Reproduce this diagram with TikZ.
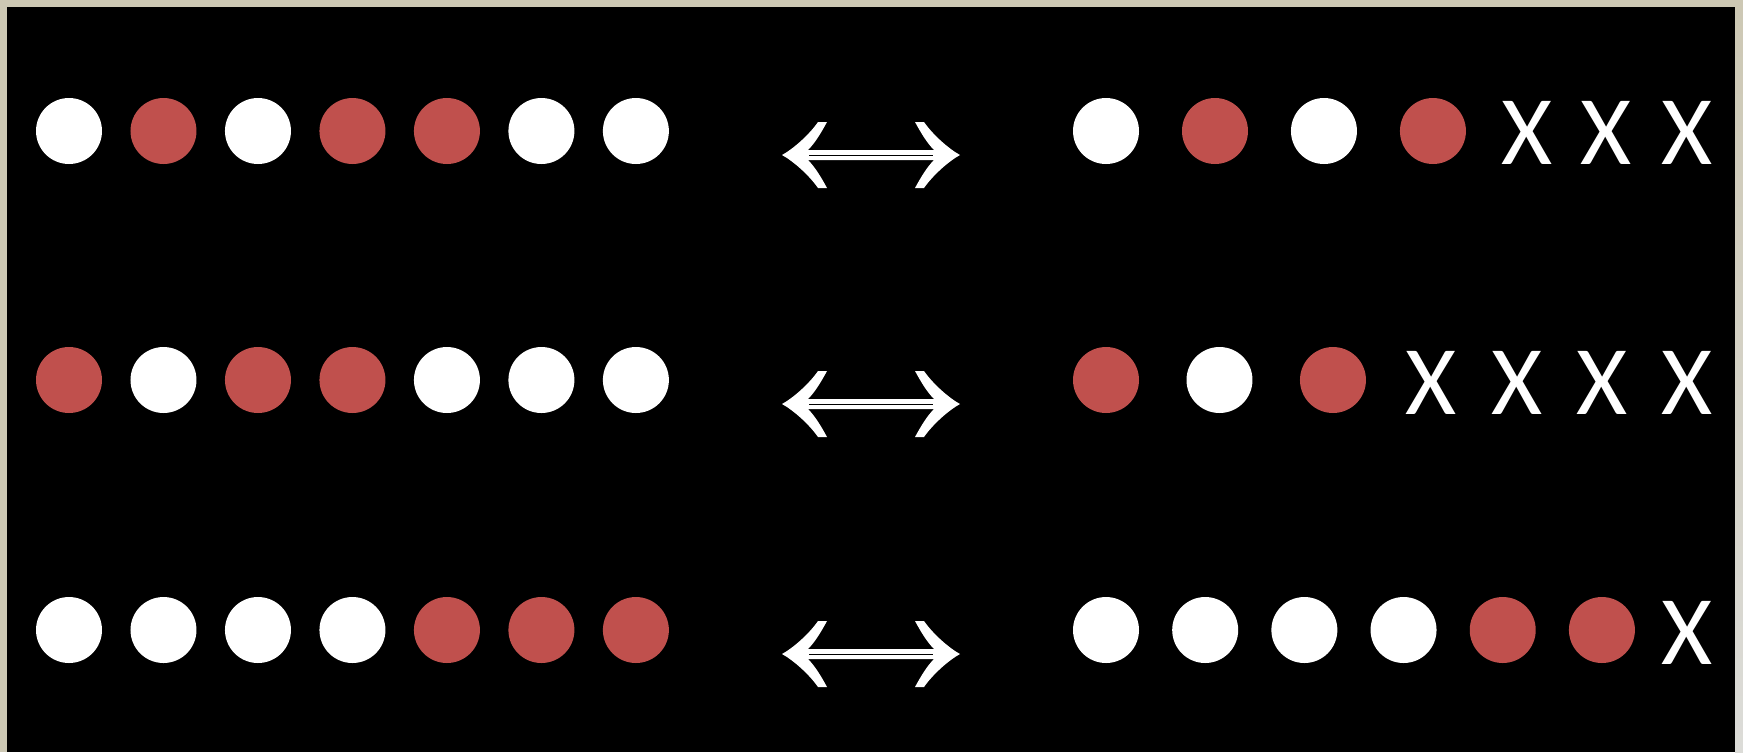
\documentclass[tikz,border=0pt]{standalone}
\usepackage{fontspec}
\newfontfamily\crossfont{Carlito}
\usetikzlibrary{positioning}
\definecolor{ballred}{RGB}{192,80,77}
\definecolor{framebeige}{RGB}{205,200,180}
\definecolor{framegray}{RGB}{220,220,216}

\begin{document}
\begin{tikzpicture}[x=0.02cm, y=-0.02cm, node distance=0.57cm,
  wb/.style={circle, fill=white, minimum size=1.32cm, inner sep=0pt, outer sep=0pt},
  rb/.style={wb, fill=ballred},
  cross/.style={text=white, inner sep=0pt, font=\crossfont\fontsize{56}{58}\selectfont},
  dblarr/.pic={
    \fill[white] (-89,0) .. controls (-78,-6) and (-62,-20) .. (-53,-33)
      -- (-44,-33) .. controls (-50,-22) and (-56,-12) .. (-63,-5)
      -- (63,-5) .. controls (56,-12) and (50,-22) .. (44,-33)
      -- (53,-33) .. controls (62,-20) and (78,-6) .. (89,0)
      .. controls (78,6) and (62,20) .. (53,33)
      -- (44,33) .. controls (50,22) and (56,12) .. (63,5)
      -- (-63,5) .. controls (-56,12) and (-50,22) .. (-44,33)
      -- (-53,33) .. controls (-62,20) and (-78,6) .. (-89,0) -- cycle;
    \draw[black, line width=0.3pt] (-62,0) -- (62,0);
  }
]
  \useasboundingbox (0,0) rectangle (1743,752);
  \fill[framebeige] (0,0) rectangle (1743,752);
  \shade[top color=framebeige, bottom color=framegray] (1735,0) rectangle (1743,752);
  \fill[black] (7,7) rectangle (1735,752);

  % row 1
  \node[wb] (l11) at (69,131) {};
  \node[rb, right=of l11] (l12) {};
  \node[wb, right=of l12] (l13) {};
  \node[rb, right=of l13] (l14) {};
  \node[rb, right=of l14] (l15) {};
  \node[wb, right=of l15] (l16) {};
  \node[wb, right=of l16] (l17) {};

  \pic (eq1) at (871,155) {dblarr};

  \node[wb] (r11) at (1106,131) {};
  \node[rb, right=0.86cm of r11] (r12) {};
  \node[wb, right=0.86cm of r12] (r13) {};
  \node[rb, right=0.86cm of r13] (r14) {};
  \node[cross] (r15) at (1527,133) {X};
  \node[cross] (r16) at (1606,133) {X};
  \node[cross] (r17) at (1687,133) {X};

  % row 2
  \node[rb] (l21) at (69,380) {};
  \node[wb, right=of l21] (l22) {};
  \node[rb, right=of l22] (l23) {};
  \node[rb, right=of l23] (l24) {};
  \node[wb, right=of l24] (l25) {};
  \node[wb, right=of l25] (l26) {};
  \node[wb, right=of l26] (l27) {};

  \pic (eq2) at (871,404) {dblarr};

  \node[rb] (r21) at (1106,380) {};
  \node[wb, right=0.95cm of r21] (r22) {};
  \node[rb, right=0.95cm of r22] (r23) {};
  \node[cross] (r24) at (1431,383) {X};
  \node[cross] (r25) at (1517,383) {X};
  \node[cross] (r26) at (1602,383) {X};
  \node[cross] (r27) at (1687,383) {X};

  % row 3
  \node[wb] (l31) at (69,630) {};
  \node[wb, right=of l31] (l32) {};
  \node[wb, right=of l32] (l33) {};
  \node[wb, right=of l33] (l34) {};
  \node[rb, right=of l34] (l35) {};
  \node[rb, right=of l35] (l36) {};
  \node[rb, right=of l36] (l37) {};

  \pic (eq3) at (871,654) {dblarr};

  \node[wb] (r31) at (1106,630) {};
  \node[wb, right=0.664cm of r31] (r32) {};
  \node[wb, right=0.664cm of r32] (r33) {};
  \node[wb, right=0.664cm of r33] (r34) {};
  \node[rb, right=0.664cm of r34] (r35) {};
  \node[rb, right=0.664cm of r35] (r36) {};
  \node[cross] (r37) at (1687,633) {X};
\end{tikzpicture}
\end{document}
